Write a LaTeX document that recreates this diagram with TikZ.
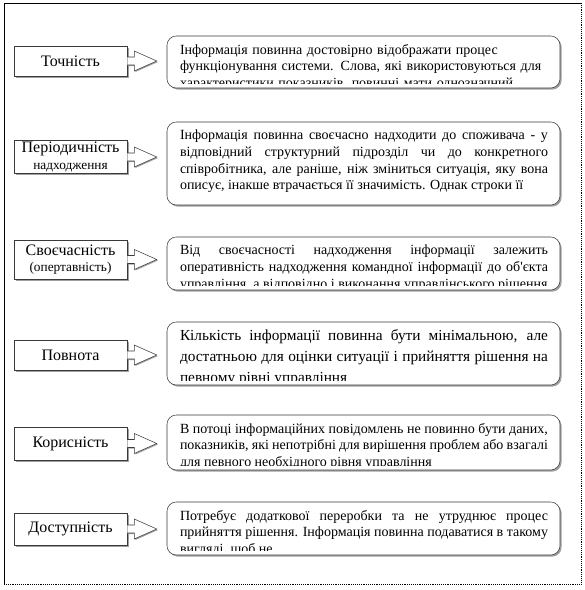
\documentclass[tikz,border=0pt]{standalone}
\usepackage{fontspec}
\setmainfont{Liberation Serif}
\usetikzlibrary{positioning,calc,shadows}
\definecolor{shade}{HTML}{A0A0A0}
\definecolor{edge}{HTML}{3A3A3A}

\begin{document}
\begin{tikzpicture}[x=0.75pt,y=-0.75pt,
    labelbox/.style={draw=edge, fill=white, minimum width=84.75pt, inner sep=1pt,
      align=center, font=\fontsize{12}{12.5}\selectfont,
      drop shadow={shadow xshift=1.2pt, shadow yshift=-1.2pt, fill=shade, opacity=1}},
    infobox/.style={draw=edge, fill=white, rounded corners=7pt, minimum width=294.75pt, inner sep=0pt,
      drop shadow={shadow xshift=1.2pt, shadow yshift=-1.2pt, fill=shade, opacity=1}},
    bodytext/.style={anchor=north west, inner sep=0pt, text width=276pt, align=justify,
      font=\fontsize{10.5}{12.5}\selectfont},
    blockarr/.style={draw=edge, fill=white,
      drop shadow={shadow xshift=0.8pt, shadow yshift=-0.8pt, fill=shade, opacity=1}}]
  \useasboundingbox (0,0) rectangle (585,590);
  % Page frame
  \draw[black] (4,584) -- (4,3) -- (581,3);
  \draw[black, densely dotted] (581,3) -- (581,584) -- (4,584);

  % Left column
  \node[labelbox, minimum height=22.5pt] (lab1) at (70.5,61) {Точність};
  \node[labelbox, minimum height=24pt] (lab2) at (70.5,157) {Періодичність\\{\fontsize{10}{11}\selectfont надходження}};
  \node[labelbox, minimum height=29.25pt] (lab3) at (70.5,259.5) {Своєчасність\\{\fontsize{10}{11}\selectfont (опертавність)}};
  \node[labelbox, minimum height=22.5pt] (lab4) at (70.5,355) {Повнота};
  \node[labelbox, minimum height=24.75pt] (lab5) at (70.5,443.5) {Корисність};
  \node[labelbox, minimum height=24pt] (lab6) at (70.5,529) {Доступність};

  % Right column
  \node[infobox, minimum height=39pt] (info1) at (363.5,62) {};
  \node[infobox, minimum height=62.25pt] (info2) at (363.5,163.5) {};
  \node[infobox, minimum height=39.75pt] (info3) at (363.5,263.5) {};
  \node[infobox, minimum height=47.25pt] (info4) at (363.5,353.5) {};
  \node[infobox, minimum height=41.25pt] (info5) at (363.5,442.5) {};
  \node[infobox, minimum height=39.75pt] (info6) at (363.5,528.5) {};

  % Texts, cut off by the boxes
  \begin{scope}
    \clip ($(info1.north west)+(2,2)$) rectangle ($(info1.south east)+(-2,-5)$);
    \node[bodytext, align=left] (body1) at ($(info1.north west)+(13,8)$)
      {Інформація повинна достовірно відображати процес\\ функціонування системи. Слова, які використовуються для\\ характеристики показників, повинні мати однозначний зміст і не};
  \end{scope}
  \begin{scope}
    \clip ($(info2.north west)+(2,2)$) rectangle ($(info2.south east)+(-2,-5)$);
    \node[bodytext] (body2) at ($(info2.north west)+(13,8)$)
      {Інформація повинна своєчасно надходити до споживача - у\linebreak відповідний структурний підрозділ чи до конкретного\linebreak співробітника, але раніше, ніж зміниться ситуація, яку вона\linebreak описує, інакше втрачається її значимість. Однак строки її};
  \end{scope}
  \begin{scope}
    \clip ($(info3.north west)+(2,2)$) rectangle ($(info3.south east)+(-2,-5)$);
    \node[bodytext] (body3) at ($(info3.north west)+(13,8)$)
      {Від своєчасності надходження інформації залежить\linebreak оперативність надходження командної інформації до об\textquotesingle єкта\linebreak управління, а відповідно і виконання управлінського рішення};
  \end{scope}
  \begin{scope}
    \clip ($(info4.north west)+(2,2)$) rectangle ($(info4.south east)+(-2,-5)$);
    \node[bodytext, font=\fontsize{11.5}{15.5}\selectfont] (body4) at ($(info4.north west)+(13,8)$)
      {Кількість інформації повинна бути мінімальною, але\linebreak достатньою для оцінки ситуації і прийняття рішення на\linebreak певному рівні управління};
  \end{scope}
  \begin{scope}
    \clip ($(info5.north west)+(2,2)$) rectangle ($(info5.south east)+(-2,-5)$);
    \node[bodytext] (body5) at ($(info5.north west)+(13,8)$)
      {В потоці інформаційних повідомлень не повинно бути даних,\linebreak показників, які непотрібні для вирішення проблем або взагалі\linebreak для певного необхідного рівня управління};
  \end{scope}
  \begin{scope}
    \clip ($(info6.north west)+(2,2)$) rectangle ($(info6.south east)+(-2,-5)$);
    \node[bodytext] (body6) at ($(info6.north west)+(13,8)$)
      {Потребує додаткової переробки та не утруднює процес\linebreak прийняття рішення. Інформація повинна подаватися в такому\linebreak вигляді, щоб не};
  \end{scope}

  % Block arrows
  \foreach \i in {1,...,6}
    \draw[blockarr] ($(lab\i.east)+(0,-4)$) -- ++(7,0) -- ++(0,-6)
      -- ($(lab\i.east -| info\i.west)+(-10,0)$)
      -- ($(lab\i.east)+(7,10)$) -- ++(0,-6) -- ($(lab\i.east)+(0,4)$);
\end{tikzpicture}
\end{document}
